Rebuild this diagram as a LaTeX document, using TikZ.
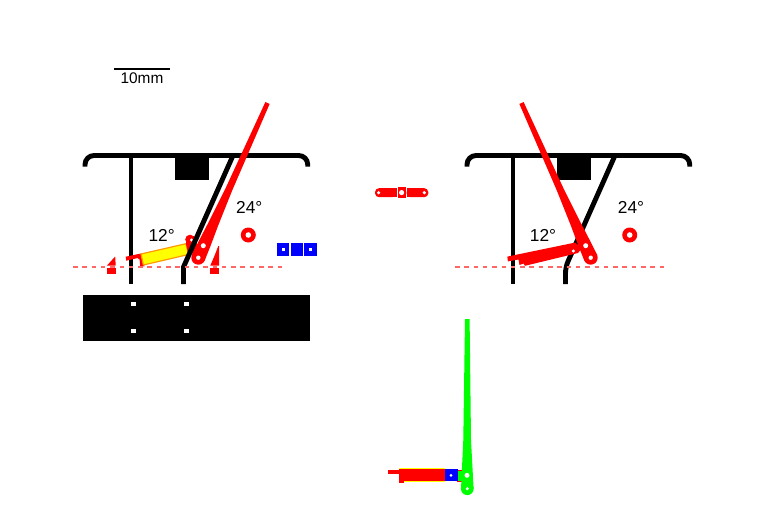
\documentclass[tikz,border=0pt]{standalone}
\usepackage{fontspec}
\setmainfont{Liberation Sans}
\definecolor{pinkline}{rgb}{1,0.4,0.4}
\definecolor{orangeline}{rgb}{1,0.6,0}
\definecolor{yellowfill}{rgb}{1,1,0}
\definecolor{greenpart}{rgb}{0,1,0}
\definecolor{bluepart}{rgb}{0,0,1}
\definecolor{redpart}{rgb}{1,0,0}
\tikzset{
  frameline/.style={draw=black,line width=4.9pt},
  hole/.style={fill=white,draw=none},
  refline/.style={draw=pinkline,line width=1.3pt,dash pattern=on 4.5pt off 4.8pt},
  lab/.style={font=\fontsize{17.3}{20}\selectfont,inner sep=0pt,text=black},
  frame/.pic={
    \draw[frameline,rounded corners=9pt] (85,166.5) -- (85,155.5) -- (307.7,155.5) -- (307.7,166.5);
    \draw[frameline] (131,155.5) -- (131,284);
    \fill[black] (175,155.5) rectangle (209,180);
  },
  ring/.pic={
    \fill[redpart] (0,0) circle (7.5);
    \fill[white] (0,0) circle (2.8);
  },
  lever/.pic={
    \fill[redpart] (265.4,102) -- (269.6,104) -- (231.8,191.4) -- (218.4,225) -- (209.9,247.6) -- (204.7,260.6) -- (191.9,254.8) -- (198.1,242.4) -- (209.2,221) -- (225.4,188.6) -- cycle;
    \fill[redpart] (198.3,257.7) circle (7);
    \fill[hole] (203.3,245.7) circle (2.5);
    \fill[hole] (198.3,257.7) circle (2.2);
  },
}
\begin{document}
\begin{tikzpicture}[x=1pt,y=-1pt]
\useasboundingbox[fill=white] (0,0) rectangle (768,524);
% scale bar
\draw[black,line width=1.8pt] (114,69) -- (170,69);
\node[inner sep=0pt,font=\fontsize{15.4}{18}\selectfont] (scale) at (142,78.5) {10mm};
% ---------- left view
\pic at (0,0) {frame};
% marks
\fill[redpart] (107,267.5) rectangle (115.7,274.3);
\fill[redpart] (107,265.5) -- (115.2,256.5) -- (115.7,265.5) -- cycle;
\fill[redpart] (210.3,267.5) rectangle (219,274.3);
\fill[redpart] (210.3,265.5) -- (214,257) -- (218.3,246) -- (219,246) -- (219,265.5) -- cycle;
% cylinder
\fill[redpart] (125.7,256.7) -- (141,253.5) -- (142,257) -- (126.2,260.7) -- cycle;
\fill[redpart] (137.5,255) -- (142,253.5) -- (144.5,266.3) -- (140.3,266.6) -- (139.6,259.5) -- (138,258.6) -- cycle;
\filldraw[draw=orangeline,fill=yellowfill,line width=1.2pt] (141,254) -- (186,243.7) -- (188.5,254.5) -- (143.4,265) -- cycle;
\fill[redpart] (186,244) -- (186,238) -- (194,236) -- (197,245) -- (194,253) -- (188.5,255) -- cycle;
\fill[redpart] (190,239.5) circle (4.8);
\fill[hole] (191.5,240) circle (1.7);
\pic at (0,0) {lever};
% slanted wall
\draw[frameline] (233,155.5) -- (183.5,267) -- (183.5,284);
\draw[refline] (73,267) -- (285,267);
\pic at (248.3,235) {ring};
\node[lab] (a24) at (249.3,207) {24°};
\node[lab] (a12) at (161.7,235) {12°};
% blue squares
\fill[bluepart] (277,243.3) rectangle (289.4,255.7);
\fill[bluepart] (290.6,243.3) rectangle (303,255.7);
\fill[bluepart] (304.4,243.3) rectangle (316.8,255.7);
\fill[hole] (281.8,248.2) rectangle (284.6,251);
\fill[hole] (309.3,248.2) rectangle (312.1,251);
% plate
\fill[black] (83,295) rectangle (310,340.8);
\foreach \x in {133.3,186.7}\foreach \y in {304.3,331}
  \fill[hole] (\x-2.5,\y-2) rectangle (\x+2.5,\y+2);
% ---------- centre link
\fill[redpart,rounded corners=4pt] (375,188.2) rectangle (396.6,197.2);
\fill[redpart,rounded corners=4pt] (406.6,188.2) rectangle (428.3,197.2);
\fill[redpart] (379,188.2) rectangle (396.6,197.2);
\fill[redpart] (406.6,188.2) rectangle (424.3,197.2);
\fill[redpart] (397.5,187) rectangle (405.7,198);
\fill[hole] (378.6,192.7) circle (1.8);
\fill[hole] (424.3,192.7) circle (1.8);
\fill[hole] (401.6,192.6) circle (2.6);
% ---------- right view
\pic at (382,0) {frame};
\draw[frameline,rounded corners=6pt] (615,155.5) -- (565.5,267) -- (565.5,284);
\draw[refline] (455,267) -- (667,267);
\fill[redpart] (507.3,256.6) -- (575,242.6) -- (582,248) -- (578,253) -- (525,265.8) -- (523.5,263.5) -- (519.5,265) -- (518.5,259.5) -- (507.9,261.4) -- cycle;
\pic[xscale=-1] at (789,0) {lever};
\fill[hole] (573.3,251) circle (1.7);
\pic at (629.7,235) {ring};
\node[lab] (b24) at (631,207) {24°};
\node[lab] (b12) at (543,235) {12°};
% ---------- bottom view
\fill[redpart] (457,469.5) rectangle (463,482);
\fill[yellowfill] (399,467.8) rectangle (445,482.4);
\fill[redpart] (399,469.4) rectangle (445,481);
\fill[redpart] (387.7,469.7) rectangle (399,473.8);
\fill[redpart] (399,472) rectangle (404,482.8);
\fill[greenpart] (457.3,471.3) rectangle (467,480.7);
\fill[bluepart] (445,469) rectangle (457.7,481.3);
\fill[hole] (451,475.3) circle (1.5);
\fill[greenpart] (465,319) -- (469.6,319) -- (471,440) -- (473.6,488.7) -- (461,488.7) -- (463.3,440) -- cycle;
\fill[greenpart] (467.3,488.7) circle (6.4);
\fill[hole] (467,475.3) circle (2.5);
\fill[hole] (467.3,488.7) circle (1.7);
\end{tikzpicture}
\end{document}
